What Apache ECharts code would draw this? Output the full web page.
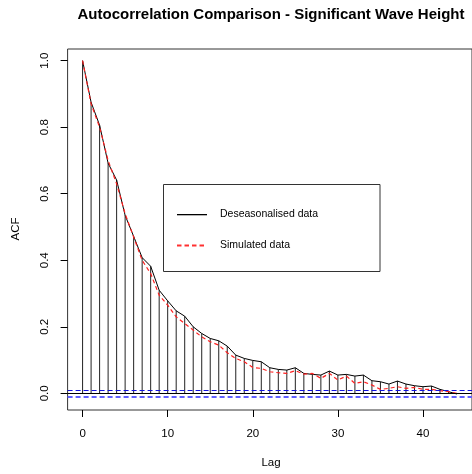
<!DOCTYPE html>
<html>
<head>
<meta charset="utf-8">
<script src="https://cdn.jsdelivr.net/npm/echarts@6/dist/echarts.min.js"></script>
<style>
  html, body { margin: 0; padding: 0; background: #fff; }
  #chart { width: 472px; height: 474px; }
</style>
</head>
<body>
<div id="chart"></div>
<script>
// ACF values, lag 0..44
const deseasonalised = [1.000, 0.875, 0.806, 0.692, 0.641, 0.535, 0.472, 0.408, 0.382, 0.310, 0.278,
  0.248, 0.232, 0.200, 0.180, 0.165, 0.158, 0.142, 0.115, 0.105, 0.099,
  0.095, 0.077, 0.072, 0.070, 0.077, 0.060, 0.057, 0.055, 0.067, 0.055,
  0.057, 0.052, 0.055, 0.038, 0.035, 0.028, 0.037, 0.028, 0.023, 0.020,
  0.022, 0.012, 0.005, -0.002];
const simulated = [1.000, 0.870, 0.800, 0.700, 0.630, 0.540, 0.470, 0.400, 0.360, 0.295, 0.265,
  0.230, 0.210, 0.190, 0.170, 0.155, 0.145, 0.122, 0.105, 0.095, 0.078,
  0.075, 0.065, 0.062, 0.060, 0.068, 0.058, 0.060, 0.045, 0.060, 0.040,
  0.052, 0.030, 0.035, 0.025, 0.012, 0.015, 0.020, 0.015, 0.018, 0.012,
  0.012, 0.008, 0.005, 0.000];
const lags = deseasonalised.map((_, i) => i);
const ciUpper = 0.012;
const ciLower = -0.009;
const xTicks = [0, 10, 20, 30, 40];
const yTicks = [0, 0.2, 0.4, 0.6, 0.8, 1.0];

const font = '"Liberation Sans", Arial, sans-serif';
const chart = echarts.init(document.getElementById('chart'));

// legend keys, drawn as thin filled rects
const blackKey = { type: 'rect', shape: { x: 177, y: 214, width: 30, height: 1.3 }, style: { fill: '#000' } };
const redKey = [0, 1, 2, 3].map(i => ({
  type: 'rect',
  shape: { x: 177 + i * 7.5, y: 244.5, width: 4.5, height: 2 },
  style: { fill: '#ff3030' }
}));

const option = {
  animation: false,
  grid: {
    left: 67.6,
    top: 49,
    width: 406.8,
    height: 361,
    show: true,
    borderColor: '#333',
    borderWidth: 1,
    backgroundColor: 'transparent'
  },
  xAxis: {
    type: 'value',
    min: -1.76,
    max: 45.76,
    splitLine: { show: false },
    axisLine: { show: false, onZero: false },
    axisTick: { show: true, length: 7, customValues: xTicks, lineStyle: { color: '#000' } },
    axisLabel: {
      customValues: xTicks,
      margin: 18,
      fontFamily: font,
      fontSize: 11.5,
      color: '#000'
    }
  },
  yAxis: {
    type: 'value',
    min: -0.050,
    max: 1.035,
    splitLine: { show: false },
    axisLine: { show: false, onZero: false },
    axisTick: { show: true, length: 7, customValues: yTicks, lineStyle: { color: '#000' } },
    axisLabel: {
      customValues: yTicks,
      rotate: 90,
      margin: 17,
      fontFamily: font,
      fontSize: 11.5,
      color: '#000',
      formatter: v => v.toFixed(1)
    }
  },
  series: [
    {
      name: 'lags',
      type: 'bar',
      barWidth: 1,
      itemStyle: { color: '#222' },
      data: lags.map((l, i) => [l, deseasonalised[i]]),
      markLine: {
        silent: true,
        symbol: 'none',
        label: { show: false },
        data: [
          { yAxis: 0, lineStyle: { color: '#000', width: 1, type: 'solid' } },
          { yAxis: ciUpper, lineStyle: { color: '#1010e0', width: 1, type: [5, 3] } },
          { yAxis: ciLower, lineStyle: { color: '#6060ff', width: 2, type: [5, 3] } }
        ]
      }
    },
    {
      name: 'Deseasonalised data',
      type: 'line',
      showSymbol: false,
      data: lags.map((l, i) => [l, deseasonalised[i]]),
      lineStyle: { color: '#000', width: 1 }
    },
    {
      name: 'Simulated data',
      type: 'line',
      showSymbol: false,
      data: lags.map((l, i) => [l, simulated[i]]),
      lineStyle: { color: '#ff2020', width: 1.2, type: [4, 3] }
    }
  ],
  graphic: [
    {
      type: 'text', x: 271, y: 15,
      style: { text: 'Autocorrelation Comparison - Significant Wave Height', fontFamily: font, fontSize: 15, fontWeight: 'bold', fill: '#000', align: 'center', verticalAlign: 'middle' }
    },
    {
      type: 'text', x: 271, y: 463,
      style: { text: 'Lag', fontFamily: font, fontSize: 11.5, fill: '#000', align: 'center', verticalAlign: 'middle' }
    },
    {
      type: 'text', x: 16, y: 229, rotation: Math.PI / 2,
      style: { text: 'ACF', fontFamily: font, fontSize: 11.5, fill: '#000', align: 'center', verticalAlign: 'middle' }
    },
    { type: 'rect', shape: { x: 163.5, y: 184.5, width: 216.5, height: 87 }, style: { fill: '#fff', stroke: '#333', lineWidth: 1 } },
    blackKey,
    { type: 'text', x: 220, y: 214.5, style: { text: 'Deseasonalised data', fontFamily: font, fontSize: 10.5, fill: '#000', verticalAlign: 'middle' } },
    ...redKey,
    { type: 'text', x: 220, y: 245.5, style: { text: 'Simulated data', fontFamily: font, fontSize: 10.5, fill: '#000', verticalAlign: 'middle' } }
  ]
};
chart.setOption(option);
</script>
</body>
</html>
